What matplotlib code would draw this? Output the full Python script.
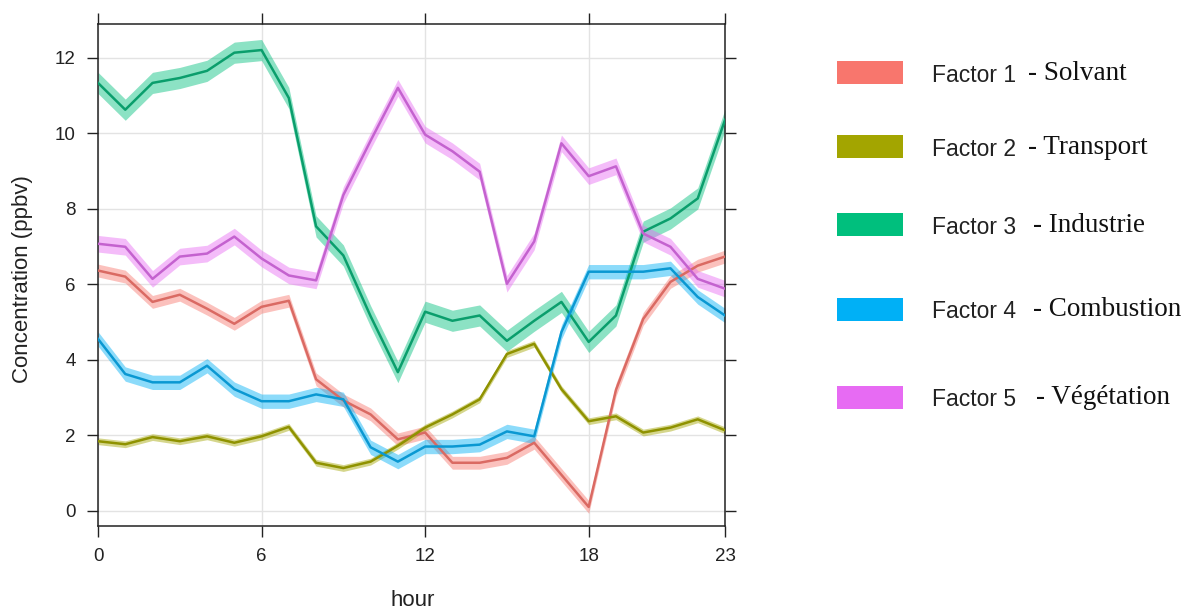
import matplotlib
matplotlib.use("Agg")
import matplotlib.pyplot as plt
from matplotlib.patches import Rectangle
import numpy as np

hours = list(range(24))

factor1_solvant = [6.36, 6.20, 5.53, 5.72, 5.35, 4.95, 5.40, 5.56, 3.48, 2.92, 2.55, 1.89,
                   2.07, 1.27, 1.27, 1.40, 1.80, 0.95, 0.10, 3.20, 5.08, 6.06, 6.49, 6.73]
factor2_transport = [1.84, 1.76, 1.95, 1.84, 1.97, 1.80, 1.97, 2.22, 1.27, 1.13, 1.30, 1.72,
                     2.20, 2.55, 2.95, 4.15, 4.42, 3.22, 2.37, 2.50, 2.07, 2.20, 2.42, 2.13]
factor3_industrie = [11.33, 10.62, 11.33, 11.46, 11.65, 12.13, 12.20, 10.93, 7.53, 6.76, 5.15, 3.67,
                     5.27, 5.03, 5.17, 4.50, 5.03, 5.53, 4.47, 5.17, 7.39, 7.74, 8.27, 10.35]
factor4_combustion = [4.55, 3.62, 3.40, 3.40, 3.84, 3.22, 2.90, 2.90, 3.08, 2.95, 1.68, 1.30,
                      1.70, 1.70, 1.75, 2.10, 1.97, 4.73, 6.33, 6.33, 6.33, 6.42, 5.66, 5.17]
factor5_vegetation = [7.07, 6.99, 6.14, 6.73, 6.81, 7.26, 6.68, 6.23, 6.10, 8.36, 9.80, 11.20,
                      9.96, 9.52, 8.98, 6.01, 7.13, 9.73, 8.86, 9.12, 7.34, 6.99, 6.14, 5.88]

series = [factor1_solvant, factor2_transport, factor3_industrie, factor4_combustion, factor5_vegetation]
factor_names = ["Factor 1", "Factor 2", "Factor 3", "Factor 4", "Factor 5"]
source_names = ["- Solvant", "- Transport", "- Industrie", "- Combustion", "- Végétation"]
band_halfwidth = [0.17, 0.09, 0.28, 0.19, 0.22]

base_colors = ["#F8766D", "#A3A500", "#00BF7D", "#00B0F6", "#E76BF3"]
line_colors = ["#DA6A63", "#8F9200", "#0A9E6C", "#0A98D2", "#C462CF"]

x_ticks = [0, 6, 12, 18, 23]
y_ticks = [0, 2, 4, 6, 8, 10, 12]

W, H = 1195, 612
fig = plt.figure(figsize=(W / 100, H / 100), dpi=100)
ax = fig.add_axes([98 / W, 1 - 526 / H, (725 - 98) / W, (526 - 24) / H])

sans = "Liberation Sans"
serif = "Liberation Serif"

for vals, hw, bc, lc in zip(series, band_halfwidth, base_colors, line_colors):
    v = np.array(vals)
    ax.fill_between(hours, v - hw, v + hw, color=bc, alpha=0.45, linewidth=0, zorder=2)
    ax.plot(hours, v, color=lc, linewidth=1.8, zorder=3)

ax.set_xlim(0, 23)
ax.set_ylim(-0.405, 12.89)
ax.set_xticks(x_ticks)
ax.set_yticks(y_ticks)
ax.set_xticklabels([str(t) for t in x_ticks], fontname=sans, fontsize=13.5, color="#222222")
ax.set_yticklabels([str(t) for t in y_ticks], fontname=sans, fontsize=13.5, color="#222222")
ax.tick_params(axis="both", direction="out", length=8, width=1, color="#222222", pad=8,
               top=True, right=True, labeltop=False, labelright=False)
ax.grid(True, color="#e3e3e3", linewidth=1, zorder=0)
ax.set_axisbelow(True)
for sp in ax.spines.values():
    sp.set_color("#222222")
    sp.set_linewidth(1.1)

fig.text(412.7 / W, 1 - 600 / H, "hour", fontname=sans, fontsize=16, ha="center", va="center",
         color="#222222")
fig.text(23 / W, 1 - 279 / H, "Concentration (ppbv)", fontname=sans, fontsize=16, ha="center",
         va="center", rotation=90, color="#222222")

rect_centers = [72, 146.5, 224.4, 309, 397.4]
text_centers = [76, 150, 227, 312, 400]
serif_x = [1028, 1028, 1033, 1033, 1036]
for i in range(5):
    yc = rect_centers[i]
    fig.add_artist(Rectangle((837 / W, 1 - (yc + 11.5) / H), 66 / W, 23 / H,
                             transform=fig.transFigure, facecolor=base_colors[i], edgecolor="none"))
    fig.text(932 / W, 1 - text_centers[i] / H, factor_names[i], fontname=sans, fontsize=16.5,
             ha="left", va="center", color="#222222")
    fig.text(serif_x[i] / W, 1 - (text_centers[i] - 2) / H, source_names[i], fontname=serif,
             fontsize=19.5, ha="left", va="center", color="#111111")

fig.savefig("out.png", dpi=100, facecolor="white")
